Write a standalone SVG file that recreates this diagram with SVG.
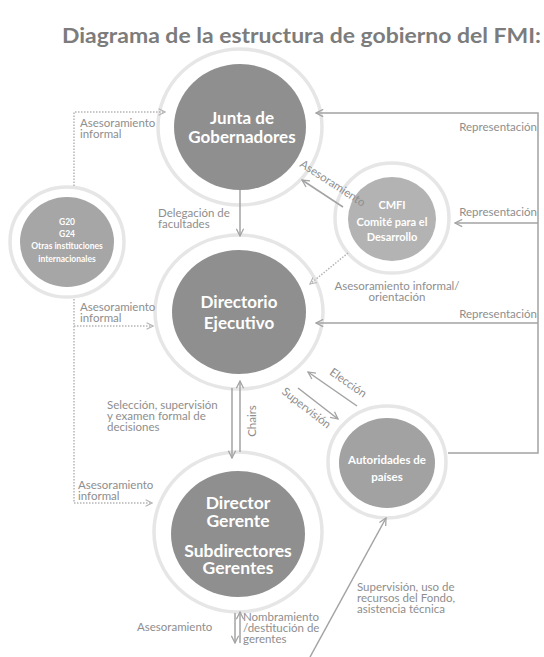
<svg xmlns="http://www.w3.org/2000/svg" width="544" height="657" viewBox="0 0 544 657">
<style>
.ring{fill:#fff;stroke:#e6e6e6;stroke-width:3.5}
.dk{fill:#8f8f8f}
.cm{fill:#b3b3b3}
.au{fill:#a2a2a2}
.g2{fill:#a6a6a6}
.nt{font-family:Lato,"Open Sans",sans-serif;font-weight:700;fill:#fff;text-anchor:middle}
.lb{font-family:Lato,"Open Sans",sans-serif;font-weight:400;fill:#8e8e8e;font-size:11.5px}
.ln{stroke:#a3a3a3;stroke-width:1.5;fill:none}
.dt{stroke:#b5b5b5;stroke-width:1.5;stroke-dasharray:1.5 1.5;fill:none}
.title{font-family:Lato,"Open Sans",sans-serif;font-weight:700;fill:#7c7c7c;font-size:20px}
</style>
<defs>
<marker id="ah" viewBox="0 0 10 10" refX="9" refY="5" markerWidth="9" markerHeight="9" orient="auto" markerUnits="userSpaceOnUse"><path d="M1,1 L9,5 L1,9" fill="none" stroke="#a3a3a3" stroke-width="1.4"/></marker>
<marker id="ahd" viewBox="0 0 10 10" refX="9" refY="5" markerWidth="8" markerHeight="8" orient="auto" markerUnits="userSpaceOnUse"><path d="M1,1 L9,5 L1,9" fill="none" stroke="#b5b5b5" stroke-width="1.4"/></marker>
</defs>
<rect width="544" height="657" fill="#fff"/>
<text class="title" x="62" y="43" textLength="479" lengthAdjust="spacingAndGlyphs">Diagrama de la estructura de gobierno del FMI:</text>

<g id="junta">
  <ellipse class="ring" cx="240" cy="127" rx="82" ry="78"/>
  <ellipse class="dk" cx="240" cy="127" rx="66" ry="63"/>
  <text class="nt" font-size="17" x="242" y="124">Junta de</text>
  <text class="nt" font-size="17" x="242" y="143">Gobernadores</text>
</g>
<g id="directorio">
  <ellipse class="ring" cx="239" cy="312" rx="84" ry="77"/>
  <ellipse class="dk" cx="239" cy="312" rx="67" ry="62"/>
  <text class="nt" font-size="17" x="239" y="308">Directorio</text>
  <text class="nt" font-size="17" x="239" y="329">Ejecutivo</text>
</g>
<g id="director">
  <ellipse class="ring" cx="238" cy="532" rx="84" ry="80"/>
  <ellipse class="dk" cx="238" cy="534" rx="67" ry="63"/>
  <text class="nt" font-size="17.5" x="238" y="509">Director</text>
  <text class="nt" font-size="17.5" x="238" y="527">Gerente</text>
  <text class="nt" font-size="17.5" x="238" y="557">Subdirectores</text>
  <text class="nt" font-size="17.5" x="238" y="574">Gerentes</text>
</g>
<g id="g20">
  <ellipse class="ring" cx="67" cy="242" rx="57" ry="55"/>
  <ellipse class="g2" cx="67" cy="242" rx="47" ry="45"/>
  <text class="nt" font-size="8.5" x="67" y="225">G20</text>
  <text class="nt" font-size="8.5" x="67" y="237">G24</text>
  <text class="nt" font-size="8.5" x="67" y="249">Otras instituciones</text>
  <text class="nt" font-size="8.5" x="67" y="262">internacionales</text>
</g>
<g id="cmfi">
  <ellipse class="ring" cx="392" cy="218" rx="57" ry="55"/>
  <ellipse class="cm" cx="392" cy="219" rx="44" ry="42"/>
  <text class="nt" font-size="11" x="392" y="209">CMFI</text>
  <text class="nt" font-size="11" x="392" y="226">Comité para el</text>
  <text class="nt" font-size="11" x="392" y="241">Desarrollo</text>
</g>
<g id="autoridades">
  <ellipse class="ring" cx="387" cy="462" rx="59" ry="56"/>
  <ellipse class="au" cx="387" cy="463" rx="48" ry="45"/>
  <text class="nt" font-size="11.5" x="387" y="464">Autoridades de</text>
  <text class="nt" font-size="11.5" x="387" y="481">países</text>
</g>

<g id="connectors">
  <path class="dt" d="M74,186 V112 H165" marker-end="url(#ahd)"/>
  <path class="dt" d="M74,299 V503 H152" marker-end="url(#ahd)"/>
  <path class="dt" d="M74,326 H153" marker-end="url(#ahd)"/>
  <path class="ln" d="M240,190 V236" marker-end="url(#ah)"/>
  <path class="ln" d="M448,453 H538 V113 H316" marker-end="url(#ah)"/>
  <path class="ln" d="M538,223 H455" marker-end="url(#ah)"/>
  <path class="ln" d="M538,323 H316" marker-end="url(#ah)"/>
  <path class="ln" d="M343,207 L302,180" marker-end="url(#ah)"/>
  <path class="dt" d="M348,253 L310,284" marker-end="url(#ahd)"/>
  <path class="ln" d="M232,388 V458" marker-end="url(#ah)"/>
  <path class="ln" d="M240,452 V381" marker-end="url(#ah)"/>
  <path class="ln" d="M357,406 L308,372" marker-end="url(#ah)"/>
  <path class="ln" d="M298,388 L338,419" marker-end="url(#ah)"/>
  <path class="ln" d="M235,613 V643" marker-end="url(#ah)"/>
  <path class="ln" d="M240,643 V612" marker-end="url(#ah)"/>
  <path class="ln" d="M310,657 L386,518" marker-end="url(#ah)"/>
</g>

<g id="labels">
  <text class="lb" x="80" y="127">Asesoramiento</text>
  <text class="lb" x="80" y="138">informal</text>
  <text class="lb" x="80" y="311">Asesoramiento</text>
  <text class="lb" x="80" y="322">informal</text>
  <text class="lb" x="78" y="489">Asesoramiento</text>
  <text class="lb" x="78" y="500">informal</text>
  <text class="lb" x="158" y="217">Delegación de</text>
  <text class="lb" x="158" y="228">facultades</text>
  <text class="lb" x="537" y="131" text-anchor="end">Representación</text>
  <text class="lb" x="537" y="216" text-anchor="end">Representación</text>
  <text class="lb" x="537" y="318" text-anchor="end">Representación</text>
  <text class="lb" font-size="11" transform="translate(299,166) rotate(33)">Asesoramiento</text>
  <text class="lb" x="397" y="290" text-anchor="middle">Asesoramiento informal/</text>
  <text class="lb" x="397" y="301" text-anchor="middle">orientación</text>
  <text class="lb" x="107" y="409">Selección, supervisión</text>
  <text class="lb" x="107" y="420">y examen formal de</text>
  <text class="lb" x="107" y="431">decisiones</text>
  <text class="lb" text-anchor="middle" transform="translate(256,421) rotate(-90)">Chairs</text>
  <text class="lb" font-size="11" text-anchor="middle" transform="translate(346,386) rotate(35)">Elección</text>
  <text class="lb" font-size="11" text-anchor="middle" transform="translate(304,411) rotate(38)">Supervisión</text>
  <text class="lb" x="137" y="631">Asesoramiento</text>
  <text class="lb" x="243" y="621">Nombramiento</text>
  <text class="lb" x="243" y="632">/destitución de</text>
  <text class="lb" x="243" y="643">gerentes</text>
  <text class="lb" x="357" y="591">Supervisión, uso de</text>
  <text class="lb" x="357" y="602">recursos del Fondo,</text>
  <text class="lb" x="357" y="613">asistencia técnica</text>
</g>
</svg>
